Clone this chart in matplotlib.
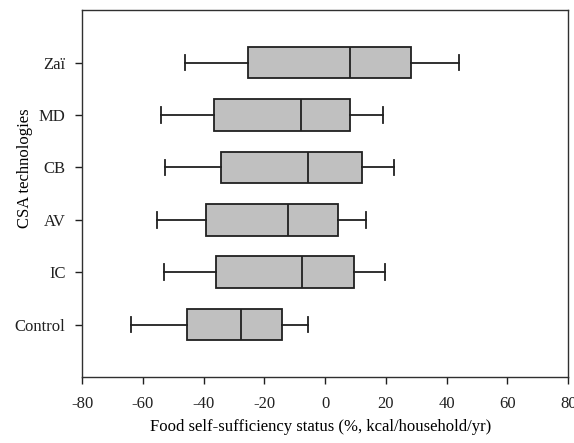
import matplotlib
matplotlib.use("Agg")
import matplotlib.pyplot as plt

plt.rcParams['font.family'] = ['Liberation Serif', 'DejaVu Serif']
plt.rcParams['axes.unicode_minus'] = False

# values (%, kcal/household/yr)
labels = ['Control', 'IC', 'AV', 'CB', 'MD', 'Zaï']
whislo = [-63.8, -53.2, -55.2, -52.7, -54.0, -46.1]
q1 = [-45.5, -35.9, -39.2, -34.2, -36.5, -25.3]
med = [-27.7, -7.6, -12.2, -5.7, -8.0, 8.2]
q3 = [-14.1, 9.4, 4.2, 12.2, 8.3, 28.3]
whishi = [-5.7, 19.8, 13.5, 22.8, 18.9, 43.9]

stats = []
for i in range(len(labels)):
    stats.append({'label': labels[i], 'whislo': whislo[i], 'q1': q1[i],
                  'med': med[i], 'q3': q3[i], 'whishi': whishi[i], 'fliers': []})

fig = plt.figure(figsize=(5.74, 4.43), dpi=100)
ax = fig.add_axes([0.143, 0.149, 0.847, 0.828])

ax.bxp(stats, positions=range(1, len(labels) + 1), vert=False, widths=0.6,
       patch_artist=True, showfliers=False,
       boxprops=dict(facecolor='#c0c0c0', edgecolor='#202020', linewidth=1.3),
       medianprops=dict(color='#202020', linewidth=1.3),
       whiskerprops=dict(color='#202020', linewidth=1.3),
       capprops=dict(color='#202020', linewidth=1.3),
       capwidths=0.3)

ax.set_xlim(-80, 80)
ax.set_ylim(0, 7)
ax.set_xticks(range(-80, 81, 20))
ax.set_yticks(range(1, len(labels) + 1))
ax.set_yticklabels(labels)
ax.tick_params(direction='out', length=5, width=1, labelsize=12, colors='#202020')
ax.tick_params(axis='x', pad=9)
ax.tick_params(axis='y', pad=7)
for s in ax.spines.values():
    s.set_linewidth(1)
    s.set_color('#303030')

ax.set_xlabel('Food self-sufficiency status (%, kcal/household/yr)', fontsize=12)
ax.xaxis.set_label_coords(0.49, -0.115)
ax.set_ylabel('CSA technologies', fontsize=12)
ax.yaxis.set_label_coords(-0.1, 0.57)

fig.savefig('out.png', dpi=100)
